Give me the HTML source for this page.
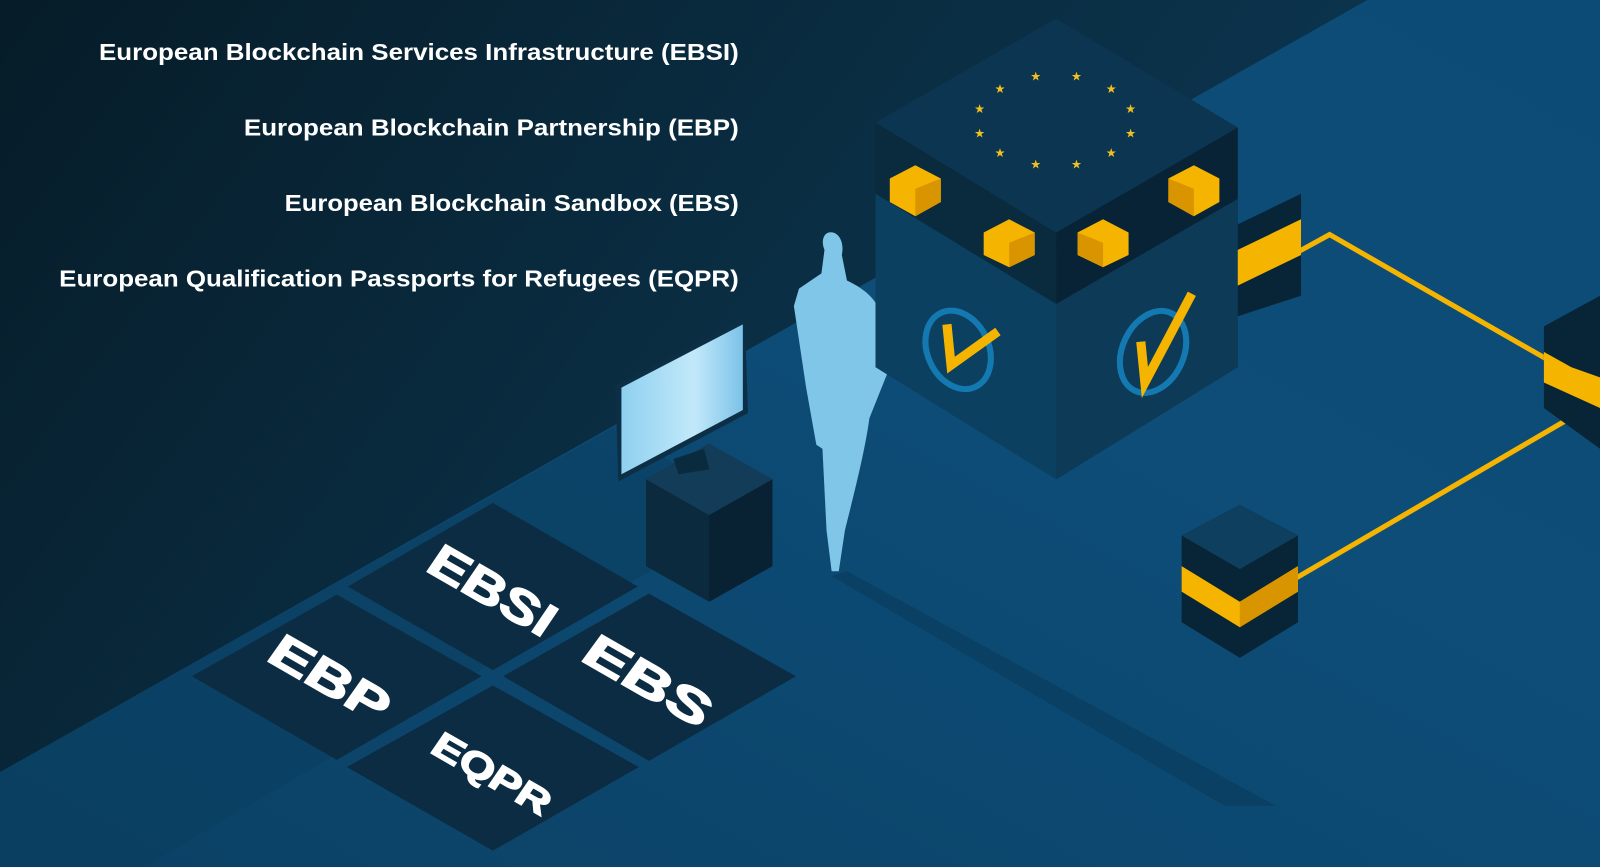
<!DOCTYPE html>
<html><head><meta charset="utf-8"><style>
html,body{margin:0;padding:0;width:1600px;height:867px;overflow:hidden;background:#0a3048}
svg{display:block}
</style></head><body>
<svg width="1600" height="867" viewBox="0 0 1568 850" preserveAspectRatio="none" xmlns="http://www.w3.org/2000/svg">
<defs>
<linearGradient id="bg" x1="0" y1="0" x2="1" y2="0.4">
<stop offset="0" stop-color="#061c28"/><stop offset="0.5" stop-color="#0a2d42"/><stop offset="1" stop-color="#0c3a57"/>
</linearGradient>
<linearGradient id="floor" x1="0" y1="1" x2="1" y2="0">
<stop offset="0" stop-color="#0b4064"/><stop offset="0.6" stop-color="#0d4d78"/><stop offset="1" stop-color="#0c4b75"/>
</linearGradient>
<linearGradient id="scr" x1="0" y1="0" x2="1" y2="0">
<stop offset="0" stop-color="#8fd0f0"/><stop offset="0.6" stop-color="#c2e9fa"/><stop offset="1" stop-color="#7cc2e8"/>
</linearGradient>
</defs>
<rect width="1568" height="850" fill="url(#bg)"/>
<polygon points="0,757 1340,0 1568,0 1568,850 0,850" fill="url(#floor)"/>
<polygon points="0,757 600,420 740,500 140,850 0,850" fill="#0a3d5e" opacity="0.5"/>
<g fill="#0b2c42">
<polygon points="483,493 625,575 483,657 341,575"/>
<polygon points="330,583 472,663 330,745 188,663"/>
<polygon points="636,582 780,663 636,746 493,663"/>
<polygon points="483,672 626,752 483,834 340,752"/>
</g>
<g fill="#ffffff" stroke="#ffffff" stroke-width="1.5" font-family="Liberation Sans, sans-serif" font-weight="bold" font-style="italic">
<text font-size="47" textLength="134" lengthAdjust="spacingAndGlyphs" transform="matrix(0.87,0.5,-0.35,0.94,418,560)">EBSI</text>
<text font-size="47" textLength="127" lengthAdjust="spacingAndGlyphs" transform="matrix(0.87,0.5,-0.35,0.94,262,648)">EBP</text>
<text font-size="47" textLength="136" lengthAdjust="spacingAndGlyphs" transform="matrix(0.87,0.5,-0.35,0.94,570,648)">EBS</text>
<text font-size="36" textLength="127" lengthAdjust="spacingAndGlyphs" transform="matrix(0.87,0.5,-0.35,0.94,422,738)">EQPR</text>
</g>
<polygon points="830,560 1250,790 1200,790 815,565" fill="#093a5a" opacity="0.6"/>
<polygon points="633,470 695,435 757,470 757,555 695,590 633,555" fill="#0b2a3e"/>
<polygon points="633,470 695,505 757,470 695,435" fill="#123c57"/>
<polygon points="695,505 757,470 757,555 695,590" fill="#082233"/>
<polygon points="660,450 690,440 695,460 665,465" fill="#0a2a3e"/>
<polygon points="603,378 730,312 733,405 606,472" fill="#0d2f45"/>
<polygon points="609,380 728,318 728,402 609,465" fill="url(#scr)"/>
<path d="M812,228 C820,226 828,235 825,250 L830,275 C845,282 858,292 862,305 C868,320 878,340 876,350 L852,410 C848,440 838,480 828,520 L822,560 L815,560 L810,520 L806,440 L800,436 L790,380 L778,300 L783,283 L805,268 L808,245 C805,238 806,230 812,228 Z" fill="#80c6e8"/>
<polygon points="858,120 858,360 1035,470 1213,360 1213,125 1035,228" fill="#0c4060"/>
<polygon points="1035,228 1213,125 1213,360 1035,470" fill="#0d3a57"/>
<polygon points="858,120 1035,228 1035,298 858,190" fill="#0a2a3e"/>
<polygon points="1035,228 1213,125 1213,195 1035,298" fill="#082336"/>
<polygon points="1035,18 1213,125 1035,228 858,120" fill="#0b3550"/>
<g fill="#f0c020" font-size="12" font-family="DejaVu Sans, sans-serif" text-anchor="middle">
<text x="1015" y="79">★</text><text x="1055" y="79">★</text><text x="1089" y="91">★</text><text x="1108" y="111">★</text>
<text x="1108" y="135">★</text><text x="1089" y="154">★</text><text x="1055" y="165">★</text><text x="1015" y="165">★</text>
<text x="980" y="154">★</text><text x="960" y="135">★</text><text x="960" y="111">★</text><text x="980" y="91">★</text>
</g>
<g>
<polygon points="872,175 897,162 922,175 922,198 897,212 872,198" fill="#f5b400"/><polygon points="897,185 922,175 922,198 897,212" fill="#d99500"/>
<polygon points="964,228 989,215 1014,228 1014,250 989,262 964,250" fill="#f5b400"/><polygon points="989,238 1014,228 1014,250 989,262" fill="#d99500"/>
<polygon points="1056,228 1081,215 1106,228 1106,250 1081,262 1056,250" fill="#f5b400"/><polygon points="1056,228 1081,238 1081,262 1056,250" fill="#d99500"/>
<polygon points="1145,175 1170,162 1195,175 1195,198 1170,212 1145,198" fill="#f5b400"/><polygon points="1145,175 1170,185 1170,212 1145,198" fill="#d99500"/>
</g>
<ellipse cx="939" cy="343" rx="30" ry="40" transform="rotate(-25 939 343)" fill="none" stroke="#1379b0" stroke-width="6"/>
<polyline points="928,318 932,358 978,325" fill="none" stroke="#f5b400" stroke-width="9"/>
<ellipse cx="1130" cy="345" rx="30" ry="42" transform="rotate(25 1130 345)" fill="none" stroke="#1379b0" stroke-width="6"/>
<polyline points="1118,335 1122,375 1168,288" fill="none" stroke="#f5b400" stroke-width="9"/>
<polyline points="1272,247 1303,230 1540,366" fill="none" stroke="#f5b400" stroke-width="5"/>
<line x1="1268" y1="568" x2="1535" y2="412" stroke="#f5b400" stroke-width="5"/>
<polygon points="1213,220 1275,190 1275,290 1213,310" fill="#082538"/>
<polygon points="1213,245 1275,215 1275,250 1213,280" fill="#f5b400"/>
<polygon points="1513,320 1568,290 1568,440 1513,400" fill="#082538"/>
<polygon points="1513,345 1540,360 1568,370 1568,400 1513,375" fill="#f5b400"/>
<polygon points="1158,525 1215,495 1272,525 1272,610 1215,645 1158,610" fill="#082538"/>
<polygon points="1158,525 1215,558 1272,525 1215,495" fill="#0e3f5e"/>
<polygon points="1158,555 1215,590 1272,555 1272,580 1215,615 1158,580" fill="#f5b400"/>
<polygon points="1215,590 1272,555 1272,580 1215,615" fill="#d99500"/>
<g fill="#ffffff" font-family="Liberation Sans, sans-serif" font-weight="bold" font-size="23" text-anchor="end">
<text x="724" y="59" textLength="627" lengthAdjust="spacingAndGlyphs">European Blockchain Services Infrastructure (EBSI)</text>
<text x="724" y="133" textLength="485" lengthAdjust="spacingAndGlyphs">European Blockchain Partnership (EBP)</text>
<text x="724" y="207" textLength="445" lengthAdjust="spacingAndGlyphs">European Blockchain Sandbox (EBS)</text>
<text x="724" y="281" textLength="666" lengthAdjust="spacingAndGlyphs">European Qualification Passports for Refugees (EQPR)</text>
</g>
</svg>
</body></html>
